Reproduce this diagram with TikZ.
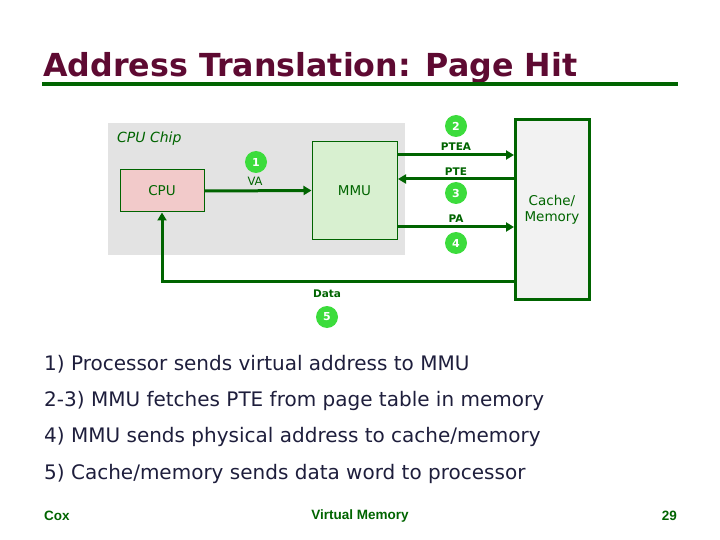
\documentclass[tikz,border=0pt]{standalone}
\usepackage{fontspec}
\setmainfont{DejaVu Sans}
\newfontfamily\titlefont{DejaVu Sans}
\newfontfamily\footfont{Liberation Sans}
\usetikzlibrary{arrows.meta}
\definecolor{dgreen}{RGB}{0,100,0}
\definecolor{maroon}{RGB}{94,10,50}
\definecolor{chipgray}{RGB}{227,227,227}
\definecolor{cpupink}{RGB}{242,202,202}
\definecolor{mmugreen}{RGB}{216,240,208}
\definecolor{cachegray}{RGB}{242,242,242}
\definecolor{bullet}{RGB}{60,220,60}
\definecolor{bodytext}{RGB}{30,30,60}
\tikzset{
  conn/.style={draw=dgreen, line width=3pt},
  arr/.style={conn, -{Triangle[length=8pt,width=9pt]}},
  num/.style={circle, fill=bullet, text=white, minimum size=22pt, inner sep=0pt, font=\fontsize{11}{12}\selectfont\bfseries},
  lbl/.style={text=dgreen, font=\fontsize{11.5}{13}\selectfont, inner sep=1pt},
  slbl/.style={text=dgreen, font=\fontsize{10.5}{12}\selectfont\bfseries, inner sep=1pt},
  boxlbl/.style={text=dgreen, font=\fontsize{13.5}{16}\selectfont},
  body/.style={anchor=west, text=bodytext, font=\fontsize{20}{24}\selectfont, inner sep=0pt},
  foot/.style={text=dgreen, font=\footfont\fontsize{13.5}{15}\selectfont\bfseries, inner sep=0pt}
}
\begin{document}
\begin{tikzpicture}[x=1pt,y=-1pt]
\useasboundingbox (0,0) rectangle (720,540);
% title
\node[anchor=base west, inner sep=0pt, text=maroon, font=\titlefont\fontsize{31.7}{36}\selectfont\bfseries] (title) at (43,77) {Address Translation: Page Hit};
\draw[dgreen, line width=3.5pt] (42,84) -- (678,84);
% chip
\fill[chipgray] (108,123) rectangle (405,255);
\node[anchor=west, text=dgreen, font=\fontsize{14}{16}\selectfont\itshape, inner sep=0pt] (chip) at (117,139) {CPU Chip};
\node[draw=dgreen, line width=1pt, fill=cpupink, minimum width=84pt, minimum height=42pt, inner sep=0pt, boxlbl] (cpu) at (162,191) {CPU};
\node[draw=dgreen, line width=1pt, fill=mmugreen, minimum width=85pt, minimum height=97pt, inner sep=0pt, boxlbl] (mmu) at (354.5,190.5) {MMU};
\node[draw=dgreen, line width=3pt, fill=cachegray, minimum width=74pt, minimum height=179pt, inner sep=0pt, boxlbl, align=center] (mem) at (552,209.5) {Cache/\\Memory};
% coordinates
\coordinate (mmuA) at (398,155);
\coordinate (memA) at (514,155);
\coordinate (mmuB) at (398,179);
\coordinate (memB) at (514,179);
\coordinate (mmuC) at (398,227);
\coordinate (memC) at (514,227);
\coordinate (memD) at (514,281);
\coordinate (turn) at (162,281);
% arrows
\draw[arr] (cpu.east) -- (mmu.west);
\draw[arr] (mmuA) -- (memA);
\draw[arr] (memB) -- (mmuB);
\draw[arr] (mmuC) -- (memC);
\draw[arr] (memD) -- (turn) -- (cpu.south);
% labels
\node[lbl] (va) at (255,181) {VA};
\node[num] (n1) at (256,162) {1};
\node[slbl] (ptea) at (456,147) {PTEA};
\node[num] (n2) at (456,126) {2};
\node[slbl] (pte) at (456,172) {PTE};
\node[num] (n3) at (456,193) {3};
\node[slbl] (pa) at (456,219) {PA};
\node[num] (n4) at (456,243) {4};
\node[slbl] (data) at (327,294) {Data};
\node[num] (n5) at (327,317) {5};
% body
\node[body] (l1) at (44,364) {1) Processor sends virtual address to MMU};
\node[body] (l2) at (44,401) {2-3) MMU fetches PTE from page table in memory};
\node[body] (l3) at (44,437) {4) MMU sends physical address to cache/memory};
\node[body] (l4) at (44,474) {5) Cache/memory sends data word to processor};
% footer
\node[foot, anchor=west] (f1) at (44,516) {Cox};
\node[foot] (f2) at (360,516) {Virtual Memory};
\node[foot, anchor=east] (f3) at (677,516) {29};
\end{tikzpicture}
\end{document}
